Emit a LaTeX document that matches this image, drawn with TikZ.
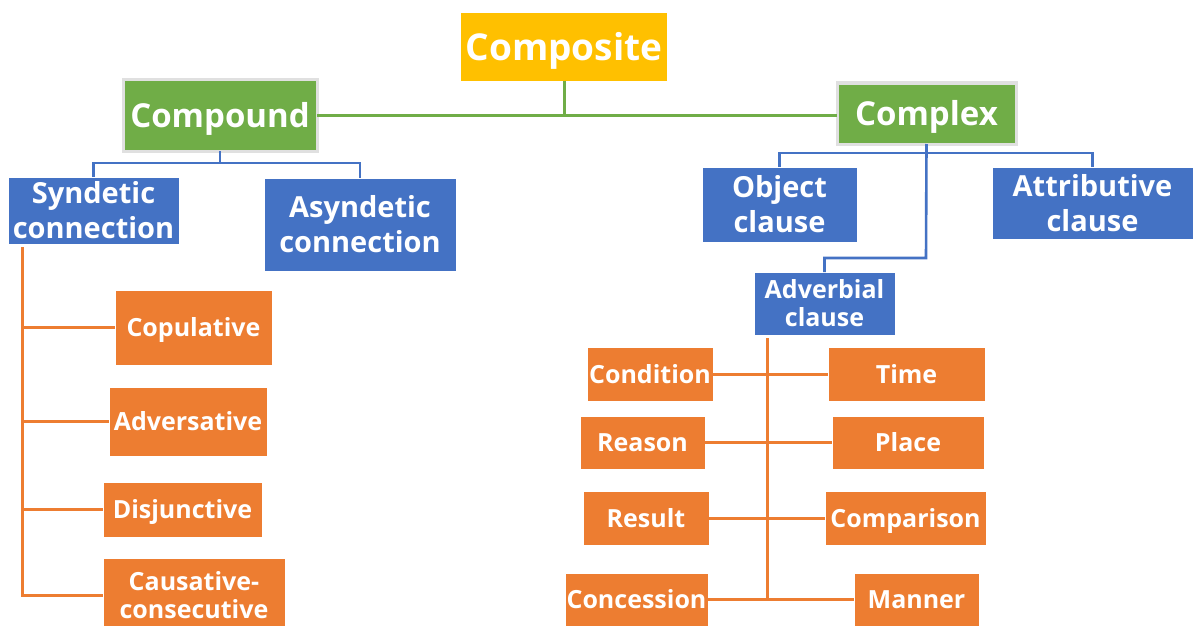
\documentclass[tikz,border=0pt]{standalone}
\usepackage{fontspec}
\setmainfont{Open Sans}
\definecolor{cgold}{HTML}{FFC000}
\definecolor{cgreen}{HTML}{70AD47}
\definecolor{cblue}{HTML}{4472C4}
\definecolor{corange}{HTML}{ED7D31}
\newcommand\bx[7]{\node[#6, minimum width={#4-#2}, minimum height={#5-#3}] (#1) at ({(#2+#4)/2},{(#3+#5)/2}) {#7};}
\tikzset{
  base/.style={inner sep=0pt, outer sep=0pt, text=white, align=center, font=\bfseries},
  goldbox/.style={base, fill=cgold, font=\fontsize{37}{44}\selectfont\bfseries, text height=33pt, text depth=6pt},
  greenbox/.style={base, fill=cgreen, draw=black!12, line width=3pt, font=\fontsize{33}{40}\selectfont\bfseries, text height=29pt, text depth=6pt},
  bluebox/.style={base, fill=cblue, draw=white, line width=0.8pt, font=\fontsize{29}{35}\selectfont\bfseries},
  smallblue/.style={base, fill=cblue, draw=white, line width=0.8pt, font=\fontsize{25}{28}\selectfont\bfseries},
  orangebase/.style={base, fill=corange, draw=white, line width=0.8pt, font=\fontsize{25}{28}\selectfont\bfseries},
  orangebox/.style={orangebase, text height=22.5pt, text depth=4.5pt},
  gline/.style={draw=cgreen, line width=3pt},
  bline/.style={draw=cblue, line width=2.6pt},
  oline/.style={draw=corange, line width=3pt},
}
\begin{document}
\begin{tikzpicture}[x=1pt,y=-1pt]
\useasboundingbox[fill=white] (0,0) rectangle (1194,626);
\coordinate (gj) at (564,115);
\coordinate (cb) at (220,163);
\coordinate (xb) at (926,153);
\coordinate (xa) at (926,258);
\coordinate (st) at (22,247);
\coordinate (at) at (767,338);
% boxes
\bx{composite}{461}{13}{667}{81}{goldbox}{Composite}
\bx{compound}{123}{80}{317}{151}{greenbox}{Compound}
\bx{complex}{837}{83}{1016}{144}{greenbox}{Complex}
\bx{syn}{8}{177}{179}{244}{bluebox}{Syndetic\\connection}
\bx{asyn}{264}{178}{456}{271}{bluebox}{Asyndetic\\connection}
\bx{obj}{702}{167}{857}{242}{bluebox}{Object\\clause}
\bx{attr}{992}{167}{1193}{239}{bluebox}{Attributive\\clause}
\bx{adv}{754}{272}{895}{335}{smallblue}{Adverbial\\clause}
\bx{cop}{115}{290}{272}{365}{orangebox}{Copulative}
\bx{advs}{109}{387}{267}{456}{orangebox}{Adversative}
\bx{disj}{103}{482}{262}{537}{orangebox}{Disjunctive}
\bx{caus}{103}{558}{285}{632}{orangebase}{Causative-\\consecutive}
\bx{cond}{587}{347}{713}{401}{orangebox}{Condition}
\bx{time}{828}{347}{985}{401}{orangebox}{Time}
\bx{reas}{580}{416}{705}{469}{orangebox}{Reason}
\bx{place}{832}{416}{984}{469}{orangebox}{Place}
\bx{res}{583}{491}{709}{545}{orangebox}{Result}
\bx{comp}{825}{491}{986}{545}{orangebox}{Comparison}
\bx{conc}{565}{573}{708}{626}{orangebox}{Concession}
\bx{man}{854}{573}{979}{626}{orangebox}{Manner}
% green
\draw[gline] (compound.east) -- (complex.west |- compound.east);
\draw[gline] (composite.south) -- (composite.south |- gj);
% blue
\draw[bline] (compound.south) -- (cb);
\draw[bline] (syn.north) |- (cb) -| (asyn.north);
\draw[bline] (complex.south) -- (xa) -| (adv.north);
\draw[bline] (obj.north) |- (xb) -| (attr.north);
% orange left
\draw[oline] (st) |- (caus.west);
\draw[oline] (st |- cop.west) -- (cop.west);
\draw[oline] (st |- advs.west) -- (advs.west);
\draw[oline] (st |- disj.west) -- (disj.west);
% orange right
\draw[oline] (at) -- (at |- conc.east);
\draw[oline] (cond.east) -- (time.west);
\draw[oline] (reas.east) -- (place.west);
\draw[oline] (res.east) -- (comp.west);
\draw[oline] (conc.east) -- (man.west);
\end{tikzpicture}
\end{document}
